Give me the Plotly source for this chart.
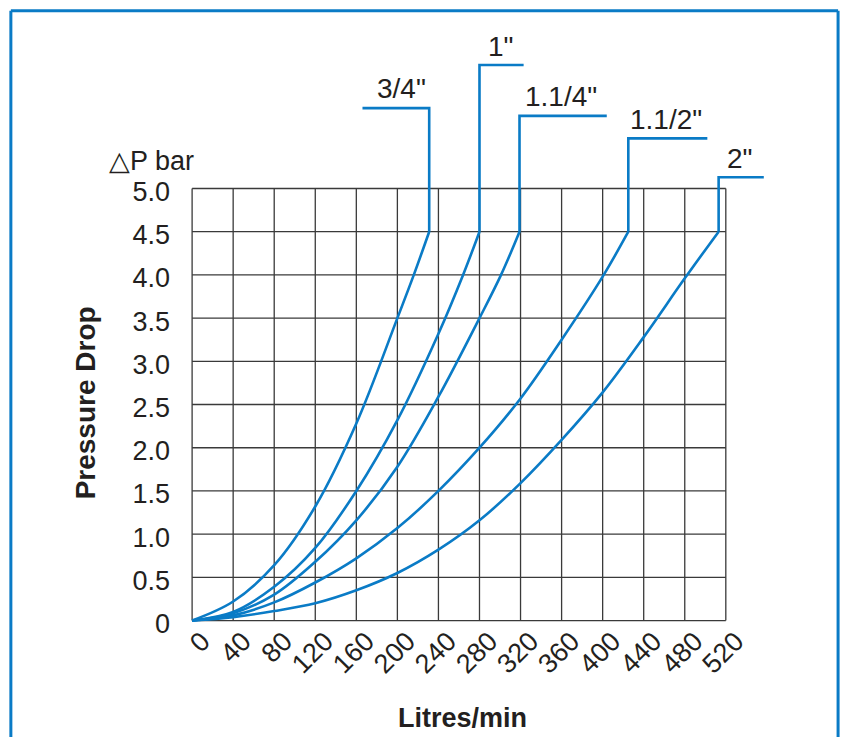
import plotly.graph_objects as go

# ---------------- data ----------------
x_ticks = list(range(0, 521, 40))
y_ticks = [0, 0.5, 1.0, 1.5, 2.0, 2.5, 3.0, 3.5, 4.0, 4.5, 5.0]
y_ticktext = ["0", "0.5", "1.0", "1.5", "2.0", "2.5", "3.0", "3.5", "4.0", "4.5", "5.0"]

sizes = ['3/4"', '1"', '1.1/4"', '1.1/2"', '2"']

q_34 = [0, 40, 80, 120, 160, 200, 216, 231]
p_34 = [0, 0.22, 0.64, 1.32, 2.28, 3.5, 4.0, 4.5]

q_1 = [0, 40, 80, 120, 160, 200, 240, 264, 280]
p_1 = [0, 0.10, 0.39, 0.84, 1.5, 2.32, 3.32, 4.0, 4.5]

q_114 = [0, 40, 80, 120, 160, 200, 240, 280, 301, 319]
p_114 = [0, 0.085, 0.30, 0.68, 1.16, 1.78, 2.59, 3.5, 4.0, 4.5]

q_112 = [0, 40, 80, 120, 160, 200, 240, 280, 320, 360, 400, 425]
p_112 = [0, 0.06, 0.21, 0.44, 0.72, 1.07, 1.5, 2.0, 2.57, 3.25, 3.98, 4.5]

q_2 = [0, 40, 80, 120, 160, 200, 240, 280, 320, 360, 400, 440, 480, 513]
p_2 = [0, 0.04, 0.11, 0.20, 0.35, 0.55, 0.82, 1.16, 1.59, 2.09, 2.64, 3.28, 3.96, 4.5]

# leader lines: level of the horizontal stroke and x where it ends
leader_top = [5.93, 6.43, 5.84, 5.58, 5.13]
leader_end = [166, 323, 404, 502, 557]
# label centres
label_x = [204, 301, 359, 462, 534]
label_y = [6.16, 6.64, 6.07, 5.80, 5.35]

curves_q = [q_34, q_1, q_114, q_112, q_2]
curves_p = [p_34, p_1, p_114, p_112, p_2]

# ---------------- styling / layout ----------------
W, H = 841, 737
L, T = 187.7, 19.67
PW, PH = 584.2, 604.5
R = W - L - PW
B = H - T - PH

BLUE = "#0a7bc6"
GRID = "#3a3a3a"
TXT = "#231f20"
FONT = "Liberation Sans, Arial, Helvetica, sans-serif"


def px_x(px):
    return (px - L) / PW


def px_y(py):
    return (H - B - py) / PH


fig = go.Figure()

# grid (only over 0..520 x 0..5)
gx, gy = [], []
for xv in x_ticks:
    gx += [xv, xv, None]
    gy += [y_ticks[0], y_ticks[-1], None]
for yv in y_ticks:
    gx += [x_ticks[0], x_ticks[-1], None]
    gy += [yv, yv, None]
fig.add_trace(go.Scatter(x=gx, y=gy, mode="lines",
                         line=dict(color=GRID, width=1.3),
                         hoverinfo="skip", showlegend=False))

for i, name in enumerate(sizes):
    q, p = curves_q[i], curves_p[i]
    fig.add_trace(go.Scatter(x=q, y=p, mode="lines", name=name,
                             line=dict(color=BLUE, width=2.6, shape="spline", smoothing=1.0),
                             showlegend=False))
    fig.add_trace(go.Scatter(x=[q[-1], q[-1], leader_end[i]],
                             y=[p[-1], leader_top[i], leader_top[i]],
                             mode="lines", line=dict(color=BLUE, width=2.6),
                             hoverinfo="skip", showlegend=False))
    fig.add_annotation(x=label_x[i], y=label_y[i], xref="x", yref="y",
                       text=name, showarrow=False,
                       xanchor="center", yanchor="middle",
                       font=dict(family=FONT, size=28, color=TXT))

fig.update_xaxes(range=[-4, 565], tickvals=x_ticks, ticktext=[str(v) for v in x_ticks],
                 tickangle=-45, showgrid=False, zeroline=False, showline=False,
                 ticks="", ticklabelshift=10, ticklabelstandoff=-5,
                 tickfont=dict(family=FONT, size=27, color=TXT))
fig.update_yaxes(range=[-0.04, 6.95], tickvals=y_ticks, ticktext=y_ticktext,
                 showgrid=False, zeroline=False, showline=False,
                 ticks="", ticklabelstandoff=17, ticklabelshift=3,
                 tickfont=dict(family=FONT, size=27, color=TXT))

# axis titles and unit label
fig.add_annotation(x=px_x(85), y=px_y(403), xref="paper", yref="paper",
                   xanchor="center", yanchor="middle",
                   text="Pressure Drop", textangle=-90, showarrow=False,
                   font=dict(family=FONT, size=28, color=TXT, weight="bold"))
fig.add_annotation(x=px_x(462), y=px_y(718), xref="paper", yref="paper",
                   xanchor="center", yanchor="middle",
                   text="Litres/min", showarrow=False,
                   font=dict(family=FONT, size=27, color=TXT, weight="bold"))
fig.add_annotation(x=px_x(107), y=px_y(161), xref="paper", yref="paper",
                   xanchor="left", yanchor="middle", text="△P bar", showarrow=False,
                   font=dict(family=FONT, size=27, color=TXT))

# outer blue frame (open at bottom)
for (x0, y0, x1, y1) in [(10.5, 10.5, 838, 10.5), (10.5, 10.5, 10.5, 745), (838, 10.5, 838, 745)]:
    fig.add_shape(type="line", xref="paper", yref="paper",
                  x0=px_x(x0), y0=px_y(y0), x1=px_x(x1), y1=px_y(y1),
                  line=dict(color=BLUE, width=3))

fig.update_layout(width=W, height=H,
                  margin=dict(l=L, r=R, t=T, b=B, autoexpand=False),
                  paper_bgcolor="white", plot_bgcolor="white",
                  showlegend=False)

fig.write_html("out.html", config={"displayModeBar": False},
               post_script="document.body.style.margin='0';document.body.style.overflow='hidden';")
